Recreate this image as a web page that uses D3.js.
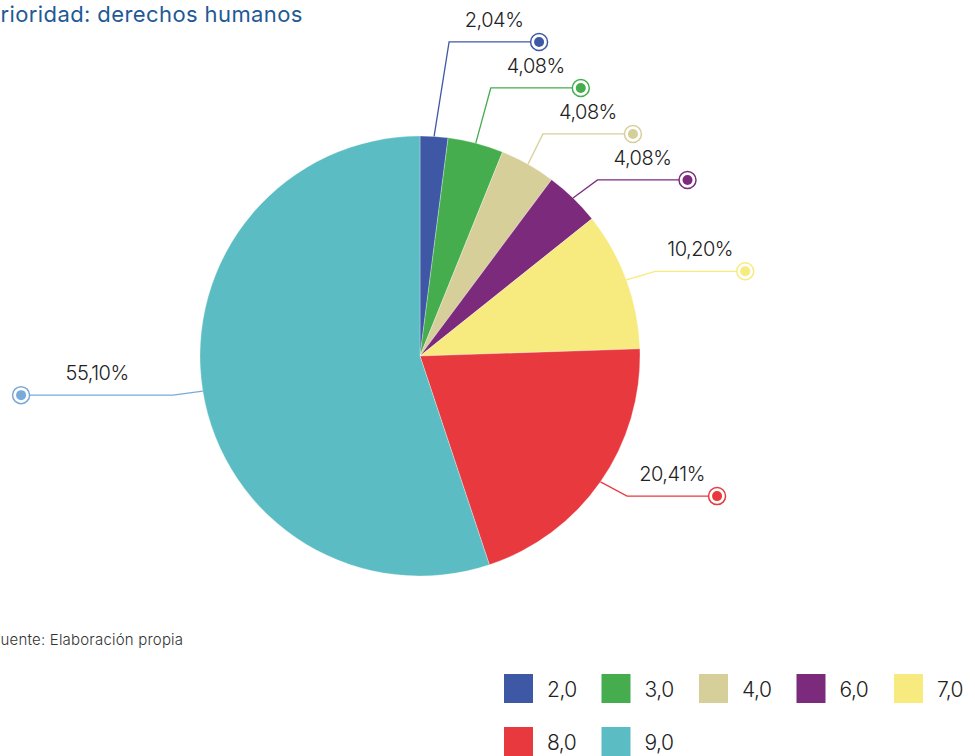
<!DOCTYPE html>
<html>
<head>
<meta charset="utf-8">
<script src="https://d3js.org/d3.v7.min.js"></script>
<style>
  body { margin: 0; background: #fff; }
  svg { font-family: Inter, "Noto Sans", sans-serif; }
</style>
</head>
<body>
<div id="target"></div>
<script>
// data
var categories = ["2,0", "3,0", "4,0", "6,0", "7,0", "8,0", "9,0"];
var shares = [2.04, 4.08, 4.08, 4.08, 10.20, 20.41, 55.10];
var shareLabels = ["2,04%", "4,08%", "4,08%", "4,08%", "10,20%", "20,41%", "55,10%"];
var colors = ["#3f58a6", "#45ad4e", "#d6cf9a", "#7b2a7c", "#f7eb7f", "#e8393e", "#5bbdc3"];
var lineColors = ["#3f58a6", "#45ad4e", "#d6cf9a", "#7b2a7c", "#f7eb7f", "#e8393e", "#7aaad9"];

var width = 975, height = 756;
var cx = 420, cy = 356, r = 220;

var svg = d3.select("#target").append("svg")
    .attr("width", width)
    .attr("height", height);

// title starts off the left edge, as in the source image
svg.append("text")
    .attr("x", -14).attr("y", 22)
    .attr("fill", "#1f5a96")
    .style("font-size", "22px")
    .style("letter-spacing", "0.4px")
    .text("Prioridad: derechos humanos");

var data = categories.map(function(c, i) {
    return {cat: c, value: shares[i], label: shareLabels[i], color: colors[i], line: lineColors[i]};
});

var pie = d3.pie().sort(null).value(function(d) { return d.value; });
var arc = d3.arc().innerRadius(0).outerRadius(r);
var arcs = pie(data);

var g = svg.append("g").attr("transform", "translate(" + cx + "," + cy + ")");

g.selectAll("path")
    .data(arcs)
    .enter().append("path")
    .attr("d", arc)
    .attr("fill", function(d) { return d.data.color; })
    .attr("stroke", "#fff")
    .attr("stroke-width", 0.3);

// label layout: natural position outside the pie, then push right labels apart
arcs.forEach(function(d) {
    d.mid = (d.startAngle + d.endAngle) / 2;
    d.right = Math.sin(d.mid) >= 0;
    d.ly = -(r + 25) * Math.cos(d.mid);
    d.sx = r * Math.sin(d.mid);
    d.sy = -r * Math.cos(d.mid);
});
var right = arcs.filter(function(d) { return d.right; }).sort(function(a, b) { return a.ly - b.ly; });
for (var i = right.length - 2; i >= 0; i--) {
    right[i].ly = Math.min(right[i].ly, right[i + 1].ly - 46);
}
arcs.forEach(function(d) {
    var dx = Math.sqrt(Math.max(0, 250 * 250 - d.ly * d.ly));
    if (d.right) {
        d.ex = Math.max(dx, d.sx + 15);
        d.tx = d.ex + 90;
    } else {
        d.ex = Math.min(-dx, d.sx - 15);
        d.tx = d.ex - 152;
    }
});

var labels = g.selectAll(".lab")
    .data(arcs)
    .enter().append("g")
    .attr("class", "lab");

labels.append("polyline")
    .attr("points", function(d) {
        return [[d.sx, d.sy], [d.ex, d.ly], [d.tx, d.ly]].join(" ");
    })
    .attr("fill", "none")
    .attr("stroke", function(d) { return d.data.line; })
    .attr("stroke-width", 1.3);

labels.append("circle")
    .attr("cx", function(d) { return d.tx; })
    .attr("cy", function(d) { return d.ly; })
    .attr("r", 8.5)
    .attr("fill", "#fff")
    .attr("stroke", function(d) { return d.data.line; })
    .attr("stroke-width", 1.5);

labels.append("circle")
    .attr("cx", function(d) { return d.tx; })
    .attr("cy", function(d) { return d.ly; })
    .attr("r", 5)
    .attr("fill", function(d) { return d.data.line; });

labels.append("text")
    .attr("x", function(d) { return (d.ex + d.tx) / 2; })
    .attr("y", function(d) { return d.ly - 15; })
    .attr("text-anchor", "middle")
    .attr("fill", "#222")
    .style("font-size", "20px")
    .style("font-weight", 300)
    .style("letter-spacing", "-0.5px")
    .text(function(d) { return d.data.label; });

svg.append("text")
    .attr("x", -8).attr("y", 645)
    .attr("fill", "#333")
    .style("font-size", "15px")
    .style("font-weight", 300)
    .style("letter-spacing", "0.2px")
    .text("Fuente: Elaboración propia");

// legend, 5 per row
var legend = svg.append("g").attr("transform", "translate(504,674)");
var item = legend.selectAll("g")
    .data(data)
    .enter().append("g")
    .attr("transform", function(d, i) {
        return "translate(" + ((i % 5) * 97.5) + "," + (Math.floor(i / 5) * 53) + ")";
    });
item.append("rect")
    .attr("width", 29).attr("height", 29)
    .attr("fill", function(d) { return d.color; });
item.append("text")
    .attr("x", 43).attr("y", 23)
    .attr("fill", "#222")
    .style("font-size", "21px")
    .style("font-weight", 300)
    .style("letter-spacing", "-0.5px")
    .text(function(d) { return d.cat; });
</script>
</body>
</html>
